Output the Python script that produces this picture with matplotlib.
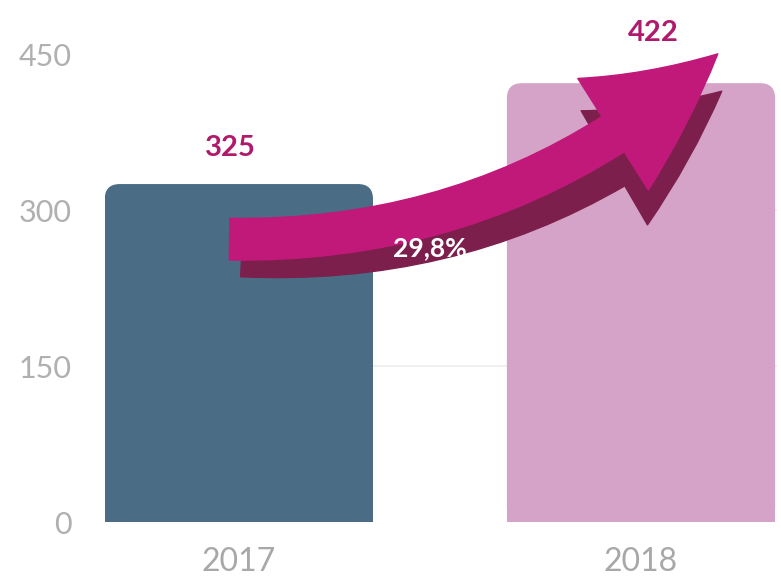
import matplotlib
matplotlib.use('Agg')
import matplotlib.pyplot as plt
from matplotlib.patches import FancyBboxPatch, Rectangle, FancyArrowPatch

# Datos del gráfico
anios = ['2017', '2018']
valores = [325, 422]
colores = ['#4a6c85', '#d4a3c7']
variacion = '29,8%'
ticks_y = [0, 150, 300, 450]

plt.rcParams['font.family'] = ['Lato', 'DejaVu Sans']

fig = plt.figure(figsize=(7.81, 5.80), dpi=100)
ax = fig.add_axes([0.1344, 0.1, 0.8604, 0.9])
ax.set_xlim(-0.333, 1.338)
ax.set_ylim(0, 502)

# Líneas de la cuadrícula
for t in ticks_y[1:3]:
    ax.axhline(t, color='#ececec', linewidth=1.2, zorder=0)

# Barras con esquinas superiores redondeadas
barras = ax.bar(range(len(anios)), valores, width=0.667, color=colores, zorder=1)
px_x = 672 / (1.338 + 0.333)
px_y = 522 / 502
radio = 15 / px_x
for b, c in zip(barras, colores):
    b.set_visible(False)
    caja = FancyBboxPatch((b.get_x(), b.get_y()), b.get_width(), b.get_height(),
                          boxstyle='round,pad=0,rounding_size=%f' % radio,
                          mutation_aspect=px_x / px_y, facecolor=c, edgecolor='none', zorder=2)
    ax.add_patch(caja)
    ax.add_patch(Rectangle((b.get_x(), 0), b.get_width(), b.get_height() / 2,
                           facecolor=c, edgecolor='none', zorder=2))

# Etiquetas de valor
ax.text(-0.02, valores[0] + 22, str(valores[0]), ha='center', va='bottom',
        fontsize=21, fontweight='bold', color='#b01a6c', zorder=5)
ax.text(1.03, valores[1] + 36, str(valores[1]), ha='center', va='bottom',
        fontsize=21, fontweight='bold', color='#b01a6c', zorder=5)

# Flecha curva (sombra oscura + cuerpo magenta)
inicio = (-0.03, 272)
fin = (1.196, 452)
sombra = FancyArrowPatch((inicio[0] + 0.03, inicio[1] - 16), (fin[0] + 0.01, fin[1] - 36),
                         connectionstyle='arc3,rad=0.2',
                         arrowstyle='simple,head_width=95,head_length=95,tail_width=30',
                         color='#7d1f4c', zorder=3, mutation_scale=1)
ax.add_patch(sombra)
flecha = FancyArrowPatch(inicio, fin, connectionstyle='arc3,rad=0.2',
                         arrowstyle='simple,head_width=95,head_length=95,tail_width=30',
                         color='#c0197a', zorder=4, mutation_scale=1)
ax.add_patch(flecha)
ax.text(0.475, 263, variacion, ha='center', va='center', fontsize=19,
        fontweight='bold', color='white', zorder=6)

# Ejes
ax.set_yticks(ticks_y)
ax.set_xticks(range(len(anios)))
ax.set_xticklabels(anios)
ax.tick_params(axis='y', length=0, pad=24, labelsize=22, labelcolor='#b0b0b0')
ax.tick_params(axis='x', length=0, pad=18, labelsize=23, labelcolor='#a8a8a8')
for s in ax.spines.values():
    s.set_visible(False)

plt.savefig('out.png', dpi=100)
